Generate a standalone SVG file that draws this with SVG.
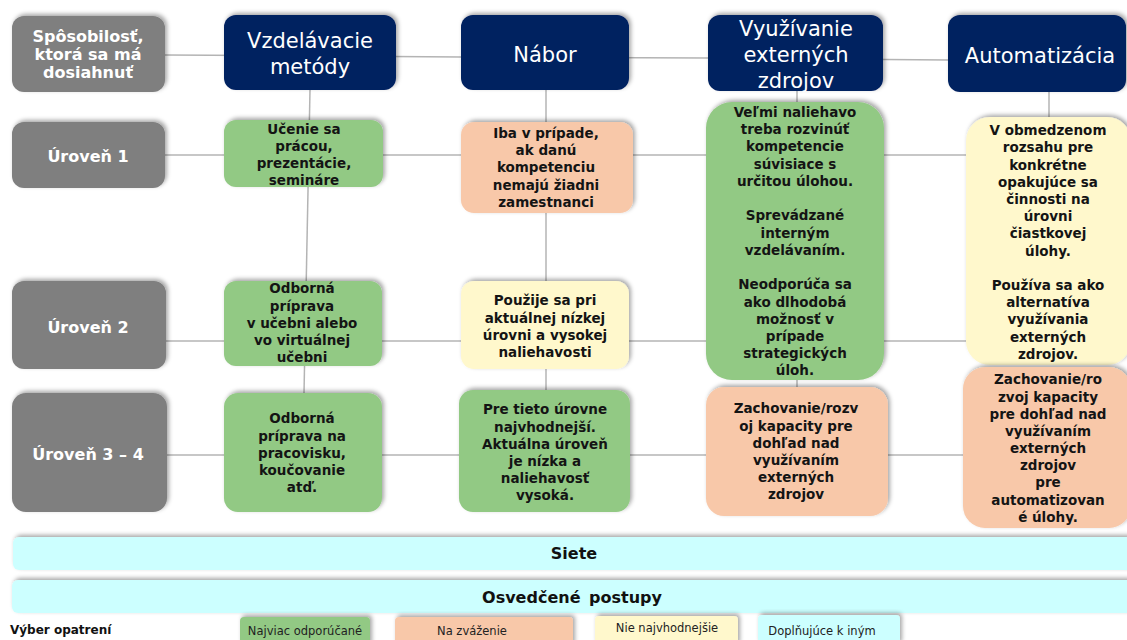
<svg xmlns="http://www.w3.org/2000/svg" width="1127" height="640" viewBox="0 0 1127 640">
<defs>
<filter id="sh" x="-10%" y="-20%" width="120%" height="140%">
<feDropShadow dx="2" dy="-2" stdDeviation="2" flood-color="#000" flood-opacity="0.35"/>
</filter>
<style>
.gray{fill:#7f7f7f}
.navy{fill:#002060}
.green{fill:#92c984}
.peach{fill:#f8c8a9}
.yellow{fill:#fff8cc}
.cyan{fill:#ccffff}
.box{filter:url(#sh)}
.c{font-family:"DejaVu Sans",Verdana,sans-serif;font-weight:bold;font-size:13.5px;fill:#141414;text-anchor:middle}
.h{font-family:"DejaVu Sans",Verdana,sans-serif;font-size:21px;fill:#fff;text-anchor:middle}
.g{font-family:"DejaVu Sans",Verdana,sans-serif;font-weight:bold;font-size:16px;fill:#fff;text-anchor:middle}
.b{font-family:"DejaVu Sans",Verdana,sans-serif;font-weight:bold;font-size:16px;fill:#111;text-anchor:middle}
.l{font-family:"DejaVu Sans",Verdana,sans-serif;font-size:11.5px;fill:#222;text-anchor:middle}
.lb{font-family:"DejaVu Sans",Verdana,sans-serif;font-weight:bold;font-size:12px;fill:#111}
.ln{stroke:#b4b4b4;stroke-width:1.5;fill:none}
</style>
</defs>
<rect width="1127" height="640" fill="#fff"/>

<g id="connectors">
<path class="ln" d="M165 55 L461 57 L708 58 L948 60"/>
<path class="ln" d="M165 155 H966"/>
<path class="ln" d="M166 341 H966"/>
<path class="ln" d="M167 455 H963"/>
<path class="ln" d="M310 90 L304 393"/>
<path class="ln" d="M546 90 V390"/>
<path class="ln" d="M797 90 V387"/>
<path class="ln" d="M1049 90 V117"/>
</g>

<g id="hdr-capability">
<rect class="gray box" x="12" y="16" width="153" height="76" rx="12"/>
<text class="g"><tspan x="88" y="42">Spôsobilosť,</tspan><tspan x="88" y="60">ktorá sa má</tspan><tspan x="88" y="78">dosiahnuť</tspan></text>
</g>
<g id="hdr-level1">
<rect class="gray box" x="12" y="122" width="153" height="66" rx="12"/>
<text class="g" x="88" y="162">Úroveň 1</text>
</g>
<g id="hdr-level2">
<rect class="gray box" x="12" y="281" width="154" height="88" rx="12"/>
<text class="g" x="88" y="333">Úroveň 2</text>
</g>
<g id="hdr-level34">
<rect class="gray box" x="12" y="393" width="155" height="119" rx="14"/>
<text class="g" x="88" y="460">Úroveň 3 – 4</text>
</g>

<g id="hdr-education">
<rect class="navy box" x="224" y="15" width="172" height="75" rx="12"/>
<text class="h"><tspan x="310" y="48">Vzdelávacie</tspan><tspan x="310" y="74">metódy</tspan></text>
</g>
<g id="hdr-recruitment">
<rect class="navy box" x="461" y="15" width="168" height="75" rx="12"/>
<text class="h" x="545" y="62">Nábor</text>
</g>
<g id="hdr-external">
<rect class="navy box" x="708" y="15" width="175" height="76" rx="12"/>
<text class="h"><tspan x="796" y="36">Využívanie</tspan><tspan x="796" y="62">externých</tspan><tspan x="796" y="88">zdrojov</tspan></text>
</g>
<g id="hdr-automation">
<rect class="navy box" x="948" y="15" width="178" height="77" rx="12"/>
<text class="h" x="1040" y="63">Automatizácia</text>
</g>

<g id="c-edu-1">
<rect class="green box" x="224" y="120" width="159" height="67" rx="12"/>
<text class="c"><tspan x="304" y="134">Učenie sa</tspan><tspan x="304" y="151">prácou,</tspan><tspan x="304" y="168">prezentácie,</tspan><tspan x="304" y="185">semináre</tspan></text>
</g>
<g id="c-edu-2">
<rect class="green box" x="224" y="281" width="158" height="85" rx="12"/>
<text class="c"><tspan x="302" y="293">Odborná</tspan><tspan x="302" y="311">príprava</tspan><tspan x="302" y="328">v učebni alebo</tspan><tspan x="302" y="345">vo virtuálnej</tspan><tspan x="302" y="362">učebni</tspan></text>
</g>
<g id="c-edu-3">
<rect class="green box" x="224" y="393" width="158" height="119" rx="14"/>
<text class="c"><tspan x="302" y="423">Odborná</tspan><tspan x="302" y="441">príprava na</tspan><tspan x="302" y="458">pracovisku,</tspan><tspan x="302" y="475">koučovanie</tspan><tspan x="302" y="492">atď.</tspan></text>
</g>

<g id="c-rec-1">
<rect class="peach box" x="461" y="122" width="172" height="91" rx="13"/>
<text class="c"><tspan x="546" y="138">Iba v prípade,</tspan><tspan x="546" y="155">ak danú</tspan><tspan x="546" y="172">kompetenciu</tspan><tspan x="546" y="190">nemajú žiadni</tspan><tspan x="546" y="207">zamestnanci</tspan></text>
</g>
<g id="c-rec-2">
<rect class="yellow box" x="461" y="281" width="168" height="88" rx="13"/>
<text class="c"><tspan x="545" y="305">Použije sa pri</tspan><tspan x="545" y="323">aktuálnej nízkej</tspan><tspan x="545" y="340">úrovni a vysokej</tspan><tspan x="545" y="357">naliehavosti</tspan></text>
</g>
<g id="c-rec-3">
<rect class="green box" x="459" y="390" width="171" height="122" rx="14"/>
<text class="c"><tspan x="545" y="414">Pre tieto úrovne</tspan><tspan x="545" y="432">najvhodnejší.</tspan><tspan x="545" y="449">Aktuálna úroveň</tspan><tspan x="545" y="466">je nízka a</tspan><tspan x="545" y="483">naliehavosť</tspan><tspan x="545" y="500">vysoká.</tspan></text>
</g>

<g id="c-ext-1">
<rect class="green box" x="706" y="102" width="178" height="278" rx="26"/>
<text class="c"><tspan x="795" y="117">Veľmi naliehavo</tspan><tspan x="795" y="134">treba rozvinúť</tspan><tspan x="795" y="151">kompetencie</tspan><tspan x="795" y="169">súvisiace s</tspan><tspan x="795" y="186">určitou úlohou.</tspan><tspan x="795" y="220">Sprevádzané</tspan><tspan x="795" y="238">interným</tspan><tspan x="795" y="255">vzdelávaním.</tspan><tspan x="795" y="289">Neodporúča sa</tspan><tspan x="795" y="307">ako dlhodobá</tspan><tspan x="795" y="324">možnosť v</tspan><tspan x="795" y="341">prípade</tspan><tspan x="795" y="358">strategických</tspan><tspan x="795" y="375">úloh.</tspan></text>
</g>
<g id="c-ext-3">
<rect class="peach box" x="706" y="387" width="182" height="129" rx="18"/>
<text class="c"><tspan x="796" y="413">Zachovanie/rozv</tspan><tspan x="796" y="431">oj kapacity pre</tspan><tspan x="796" y="448">dohľad nad</tspan><tspan x="796" y="465">využívaním</tspan><tspan x="796" y="482">externých</tspan><tspan x="796" y="499">zdrojov</tspan></text>
</g>

<g id="c-aut-1">
<rect class="yellow box" x="966" y="117" width="165" height="248" rx="24"/>
<text class="c"><tspan x="1048" y="135">V obmedzenom</tspan><tspan x="1048" y="152">rozsahu pre</tspan><tspan x="1048" y="170">konkrétne</tspan><tspan x="1048" y="187">opakujúce sa</tspan><tspan x="1048" y="204">činnosti na</tspan><tspan x="1048" y="221">úrovni</tspan><tspan x="1048" y="238">čiastkovej</tspan><tspan x="1048" y="256">úlohy.</tspan><tspan x="1048" y="290">Používa sa ako</tspan><tspan x="1048" y="307">alternatíva</tspan><tspan x="1048" y="324">využívania</tspan><tspan x="1048" y="342">externých</tspan><tspan x="1048" y="359">zdrojov.</tspan></text>
</g>
<g id="c-aut-3">
<rect class="peach box" x="963" y="367" width="168" height="161" rx="22"/>
<text class="c"><tspan x="1048" y="384">Zachovanie/ro</tspan><tspan x="1048" y="402">zvoj kapacity</tspan><tspan x="1048" y="419">pre dohľad nad</tspan><tspan x="1048" y="436">využívaním</tspan><tspan x="1048" y="453">externých</tspan><tspan x="1048" y="470">zdrojov</tspan><tspan x="1048" y="487">pre</tspan><tspan x="1048" y="505">automatizovan</tspan><tspan x="1048" y="522">é úlohy.</tspan></text>
</g>

<g id="bar-networks">
<rect class="cyan box" x="13" y="537" width="1120" height="33" rx="6"/>
<text class="b" x="574" y="559">Siete</text>
</g>
<g id="bar-practices">
<rect class="cyan box" x="12" y="580" width="1121" height="33" rx="6"/>
<text class="b" x="572" y="603" word-spacing="3">Osvedčené postupy</text>
</g>

<g id="legend">
<text class="lb" x="10" y="634">Výber opatrení</text>
<rect class="green box" x="240" y="617" width="130" height="30" rx="4"/>
<text class="l" x="305" y="635">Najviac odporúčané</text>
<rect class="peach box" x="395" y="617" width="178" height="30" rx="4"/>
<text class="l" x="472" y="635">Na zváženie</text>
<rect class="yellow box" x="595" y="616" width="143" height="30" rx="4"/>
<text class="l" x="667" y="632">Nie najvhodnejšie</text>
<rect class="cyan box" x="758" y="615" width="142" height="30" rx="4"/>
<text class="l" x="822" y="635">Doplňujúce k iným</text>
</g>
</svg>
